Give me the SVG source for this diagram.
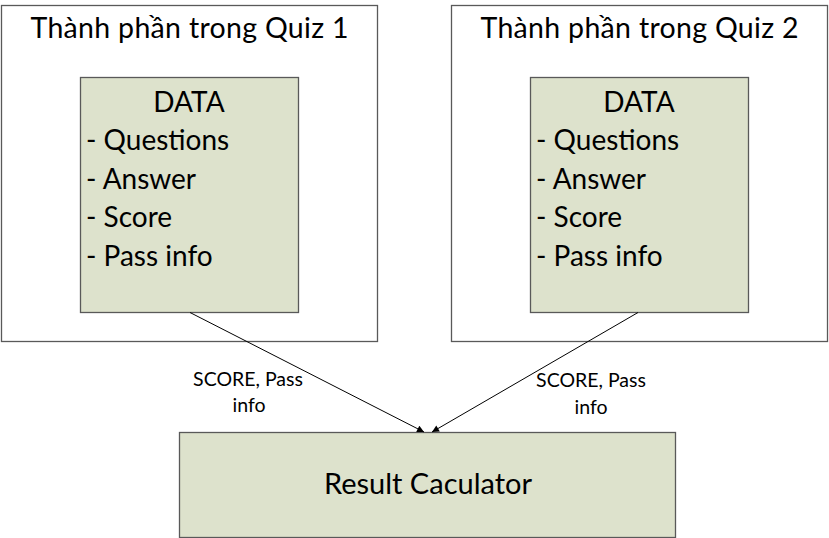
<svg xmlns="http://www.w3.org/2000/svg" width="829" height="538" viewBox="0 0 829 538">
<style>
.outer{fill:#ffffff;stroke:#595959;stroke-width:1.3}
.inner{fill:#dde2cc;stroke:#595959;stroke-width:1.3}
.t{font-family:Lato,"Open Sans","Liberation Sans",sans-serif;fill:#000}
.title{font-size:28.5px}
.item{font-size:28px}
.lbl{font-size:19.5px}
.conn{stroke:#000;stroke-width:1;fill:none}
</style>
<defs>
<marker id="ah" viewBox="0 0 10 10" refX="10" refY="5" markerWidth="8" markerHeight="7" markerUnits="userSpaceOnUse" orient="auto">
<path d="M0,0 L10,5 L0,10 Z" fill="#000"/>
</marker>
</defs>
<g id="quiz1">
<rect class="outer" x="1.5" y="5.5" width="376" height="336"/>
<text class="t title" x="189.5" y="38" text-anchor="middle" textLength="318" lengthAdjust="spacing">Thành phần trong Quiz 1</text>
</g>
<g id="data1">
<rect class="inner" x="80.5" y="77.5" width="218" height="235"/>
<text class="t item" x="189" y="112" text-anchor="middle">DATA</text>
<text class="t item" x="86" y="150">- Questions</text>
<text class="t item" x="86" y="188.5">- Answer</text>
<text class="t item" x="86" y="227">- Score</text>
<text class="t item" x="86" y="265.5">- Pass info</text>
</g>
<g id="quiz2">
<rect class="outer" x="451.5" y="5.5" width="376" height="336"/>
<text class="t title" x="639.5" y="38" text-anchor="middle" textLength="318" lengthAdjust="spacing">Thành phần trong Quiz 2</text>
</g>
<g id="data2">
<rect class="inner" x="530.5" y="77.5" width="218" height="235"/>
<text class="t item" x="639" y="112" text-anchor="middle">DATA</text>
<text class="t item" x="536" y="150">- Questions</text>
<text class="t item" x="536" y="188.5">- Answer</text>
<text class="t item" x="536" y="227">- Score</text>
<text class="t item" x="536" y="265.5">- Pass info</text>
</g>
<g id="result">
<rect class="inner" x="179.5" y="432.5" width="496" height="105"/>
<text class="t" font-size="29" x="428" y="494" text-anchor="middle">Result Caculator</text>
</g>
<g id="connectors">
<line class="conn" x1="190" y1="312.5" x2="424" y2="432" marker-end="url(#ah)"/>
<line class="conn" x1="638" y1="312.5" x2="432" y2="432" marker-end="url(#ah)"/>
<text class="t lbl" x="248" y="386" text-anchor="middle">SCORE, Pass</text>
<text class="t lbl" x="249" y="412" text-anchor="middle">info</text>
<text class="t lbl" x="591" y="387" text-anchor="middle">SCORE, Pass</text>
<text class="t lbl" x="591" y="414" text-anchor="middle">info</text>
</g>
</svg>
